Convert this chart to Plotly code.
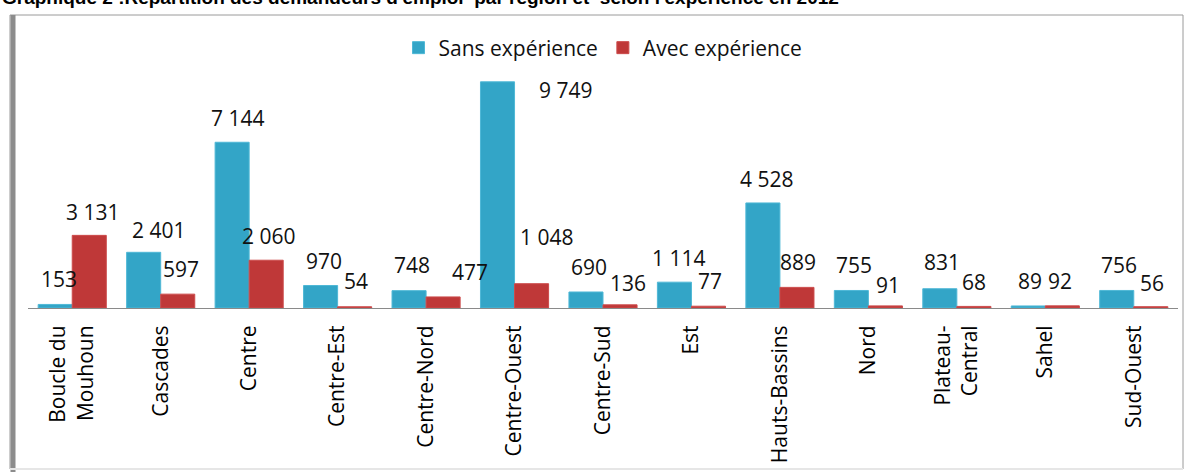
import plotly.graph_objects as go

# ---- data ----
regions = ["Boucle du<br>Mouhoun", "Cascades", "Centre", "Centre-Est", "Centre-Nord",
           "Centre-Ouest", "Centre-Sud", "Est", "Hauts-Bassins", "Nord",
           "Plateau-<br>Central", "Sahel", "Sud-Ouest"]
sans_experience = [153, 2401, 7144, 970, 748, 9749, 690, 1114, 4528, 755, 831, 89, 756]
avec_experience = [3131, 597, 2060, 54, 477, 1048, 136, 77, 889, 91, 68, 92, 56]

# label nudges in pixels (relative to category centre / bar top)
sans_dx = [-13, -2.5, -12, -13.5, -14, 50.5, -14, -12.5, -13, -14.5, -15, -15.5, -15]
sans_dy = [-25.5, -22, -24, -24.5, -25.6, 8, -25, -24, -24, -25.5, -26.7, -25, -25.5]
avec_dx = [20, 20.5, 19, 18.5, 44, 31.5, 25, 18.5, 18, 19.5, 17, 14.5, 18]
avec_dy = [-23.4, -25, -24, -25.7, -25, -46.7, -22, -25, -25, -21, -24, -25, -24]

W, H = 1185, 472
PL, PR, PT, PB = 28, 1178, 76, 308  # plot area in pixels


def px(x):
    return (x - PL) / (PR - PL)


def py(y):
    return (PB - y) / (PB - PT)


def fmt(v):
    return f"{v:,}".replace(",", " ")


FONT = "Open Sans"
BLUE = "#33A5C7"
RED = "#BF3838"

fig = go.Figure()
fig.add_trace(go.Bar(name="Sans expérience", x=regions, y=sans_experience,
                     marker=dict(color=BLUE, line=dict(width=1, color="#4FB8D6"))))
fig.add_trace(go.Bar(name="Avec expérience", x=regions, y=avec_experience,
                     marker=dict(color=RED, line=dict(width=1, color="#CC4B4B"))))

annotations = []
for cat, v, dx, dy in zip(regions, sans_experience, sans_dx, sans_dy):
    annotations.append(dict(x=cat, y=v, xref="x", yref="y", text=fmt(v), showarrow=False,
                            xshift=dx, yshift=-dy, xanchor="center", yanchor="middle",
                            font=dict(family=FONT, size=21, color="#111")))
for cat, v, dx, dy in zip(regions, avec_experience, avec_dx, avec_dy):
    annotations.append(dict(x=cat, y=v, xref="x", yref="y", text=fmt(v), showarrow=False,
                            xshift=dx, yshift=-dy, xanchor="center", yanchor="middle",
                            font=dict(family=FONT, size=21, color="#111")))

annotations.append(dict(
    x=px(0), y=py(10), xref="paper", yref="paper", xanchor="left", yanchor="bottom",
    showarrow=False,
    text="<b>Graphique 2 :Répartition des demandeurs d'emploi  par région et  selon l'expérience en 2012</b>",
    font=dict(family="Liberation Sans", size=19, color="#000"), ))

shapes = [
    dict(type="rect", xref="paper", yref="paper", x0=px(10), x1=px(1183), y0=py(15), y1=py(469),
         line=dict(color="#9a9a9a", width=1), fillcolor="rgba(0,0,0,0)", layer="below"),
    dict(type="line", xref="paper", yref="paper", x0=px(13), x1=px(13), y0=py(15), y1=py(472),
         line=dict(color="#8c8c8c", width=5)),
    dict(type="line", xref="paper", yref="paper", x0=px(10), x1=px(1183), y0=py(469), y1=py(469),
         line=dict(color="#e6e6e6", width=2)),
]

fig.update_layout(
    width=W, height=H,
    margin=dict(l=PL, r=W - PR, t=PT, b=H - PB, pad=0, autoexpand=False),
    paper_bgcolor="white", plot_bgcolor="white",
    barmode="group", bargap=0.23, bargroupgap=0,
    showlegend=True,
    legend=dict(orientation="h", x=px(603), y=py(48), xanchor="center", yanchor="middle",
                font=dict(family=FONT, size=21, color="#111"), itemwidth=30,
                bgcolor="rgba(0,0,0,0)"),
    xaxis=dict(showline=True, linecolor="#8a8a8a", linewidth=1, ticks="", tickangle=-90,
               tickfont=dict(family=FONT, size=21, color="#000"), showgrid=False,
               automargin=False, ticklabelstandoff=8),
    yaxis=dict(range=[0, 10000], visible=False, showgrid=False, automargin=False),
    annotations=annotations,
    shapes=shapes,
)

fig.write_html("out.html", config={"displayModeBar": False},
               post_script="document.body.style.margin='0';document.body.style.overflow='hidden';")
